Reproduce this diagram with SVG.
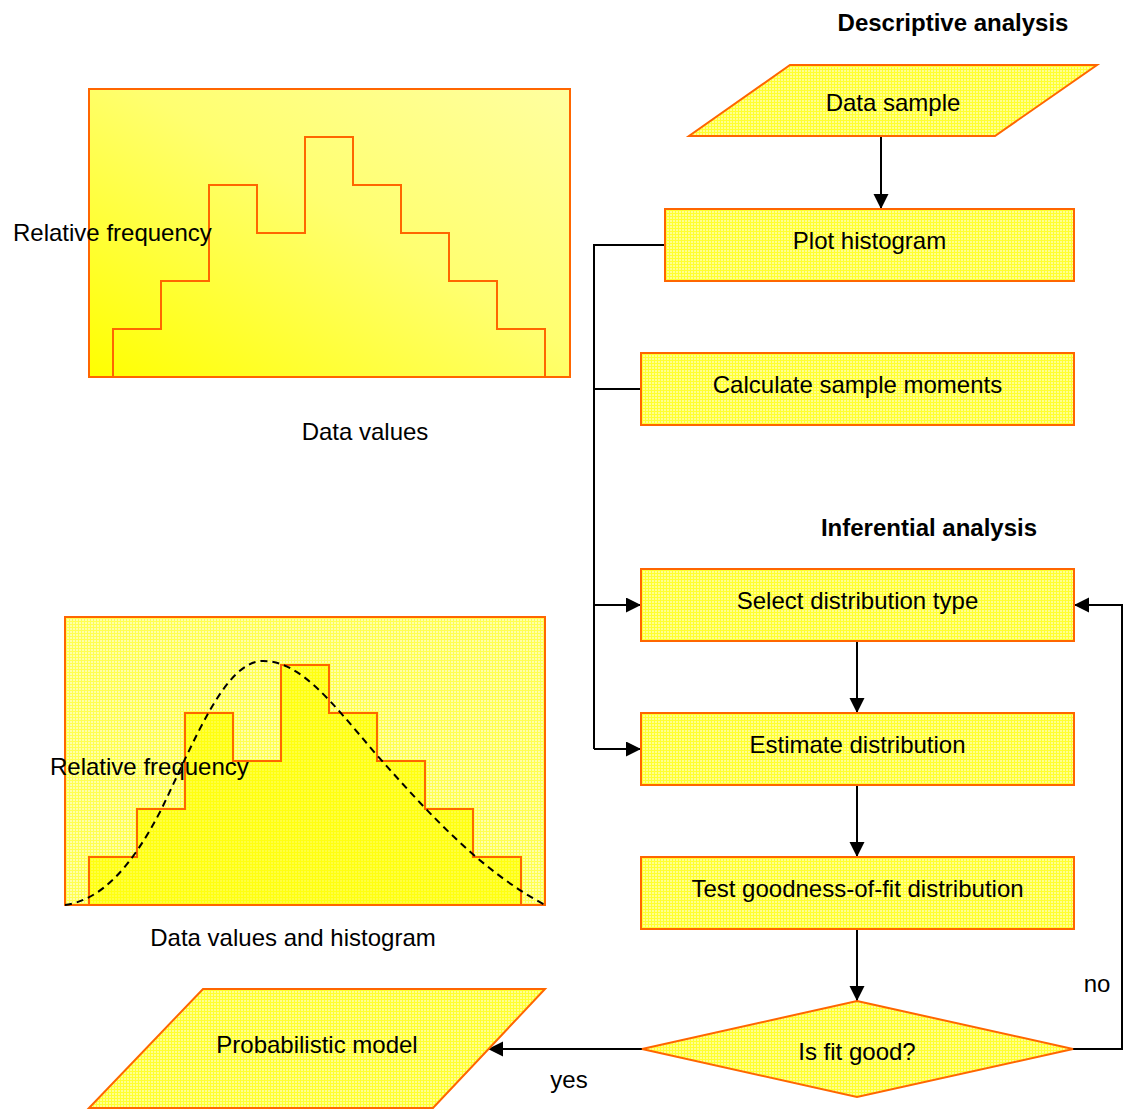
<svg xmlns="http://www.w3.org/2000/svg" width="1128" height="1109" viewBox="0 0 1128 1109">
<style>
.t{font-family:"Liberation Sans",Arial,sans-serif;font-size:24px;fill:#000}
.b{font-weight:bold}
.m{text-anchor:middle}
.node{fill:url(#grid);stroke:#FF6600;stroke-width:2}
.con{fill:none;stroke:#000;stroke-width:2}
.arr{marker-end:url(#ah)}
.hist{fill:none;stroke:#FF6600;stroke-width:2}
</style>
<defs>
<pattern id="grid" width="3" height="3" patternUnits="userSpaceOnUse">
<rect width="3" height="3" fill="#FFFF90"/>
<path d="M0 0.5H3M0.5 0V3" stroke="#FFFF30" stroke-width="1"/>
</pattern>
<pattern id="gridL" width="3" height="3" patternUnits="userSpaceOnUse">
<rect width="3" height="3" fill="#FFFFA8"/>
<path d="M0 0.5H3M0.5 0V3" stroke="#FFFF50" stroke-width="1"/>
</pattern>
<pattern id="gridS" width="3" height="3" patternUnits="userSpaceOnUse">
<rect width="3" height="3" fill="#FFFF40"/>
<path d="M0 0.5H3M0.5 0V3" stroke="#FFFF10" stroke-width="1"/>
</pattern>
<linearGradient id="grad" x1="0" y1="1" x2="1" y2="0">
<stop offset="0" stop-color="#FFFF00"/>
<stop offset="0.55" stop-color="#FFFF70"/>
<stop offset="1" stop-color="#FFFFA0"/>
</linearGradient>
<marker id="ah" markerWidth="16" markerHeight="16" refX="15" refY="7.5" orient="auto" markerUnits="userSpaceOnUse">
<path d="M0 0L15 7.5L0 15Z" fill="#000"/>
</marker>
</defs>

<g id="chart-top">
<rect x="89" y="89" width="481" height="288" fill="url(#grad)" stroke="#FF6600" stroke-width="2"/>
<polyline class="hist" points="89,377 113,377 113,329 161,329 161,281 209,281 209,185 257,185 257,233 305,233 305,137 353,137 353,185 401,185 401,233 449,233 449,281 497,281 497,329 545,329 545,377 570,377"/>
<text class="t" x="13" y="241">Relative frequency</text>
<text class="t m" x="365" y="440">Data values</text>
</g>

<g id="chart-bottom">
<rect x="65" y="617" width="480" height="288" fill="url(#gridL)" stroke="#FF6600" stroke-width="2"/>
<polygon points="89,905 89,857 137,857 137,809 185,809 185,713 233,713 233,761 281,761 281,665 329,665 329,713 377,713 377,761 425,761 425,809 473,809 473,857 521,857 521,905" fill="url(#gridS)" stroke="#FF6600" stroke-width="2"/>
<path d="M65,905 C100,900 130,870 161,810 C195,740 225,661 263,661 C300,661 330,700 375,753 C430,815 480,870 545,905" fill="none" stroke="#000" stroke-width="2" stroke-dasharray="7 5"/>
<text class="t" x="50" y="775">Relative frequency</text>
<text class="t m" x="293" y="946">Data values and histogram</text>
</g>

<text class="t b m" x="953" y="31">Descriptive analysis</text>
<text class="t b m" x="929" y="536">Inferential analysis</text>

<g id="connectors">
<line class="con arr" x1="881" y1="137" x2="881" y2="209"/>
<polyline class="con" points="665,245 594,245 594,749"/>
<line class="con" x1="641" y1="389" x2="594" y2="389"/>
<line class="con arr" x1="594" y1="605" x2="641" y2="605"/>
<line class="con arr" x1="594" y1="749" x2="641" y2="749"/>
<line class="con arr" x1="857" y1="641" x2="857" y2="713"/>
<line class="con arr" x1="857" y1="785" x2="857" y2="857"/>
<line class="con arr" x1="857" y1="929" x2="857" y2="1001"/>
<line class="con arr" x1="642" y1="1049" x2="488" y2="1049"/>
<polyline class="con arr" points="1073,1049 1122,1049 1122,605 1074,605"/>
<text class="t m" x="569" y="1088">yes</text>
<text class="t m" x="1097" y="992">no</text>
</g>

<g id="data-sample">
<polygon class="node" points="790,65 1097,65 995,136 689,136"/>
<text class="t m" x="893" y="111">Data sample</text>
</g>
<g id="plot-histogram">
<rect class="node" x="665" y="209" width="409" height="72"/>
<text class="t m" x="869.5" y="249">Plot histogram</text>
</g>
<g id="calc-moments">
<rect class="node" x="641" y="353" width="433" height="72"/>
<text class="t m" x="857.5" y="393">Calculate sample moments</text>
</g>
<g id="select-dist">
<rect class="node" x="641" y="569" width="433" height="72"/>
<text class="t m" x="857.5" y="609">Select distribution type</text>
</g>
<g id="estimate-dist">
<rect class="node" x="641" y="713" width="433" height="72"/>
<text class="t m" x="857.5" y="753">Estimate distribution</text>
</g>
<g id="test-fit">
<rect class="node" x="641" y="857" width="433" height="72"/>
<text class="t m" x="857.5" y="897">Test goodness-of-fit distribution</text>
</g>
<g id="is-fit-good">
<polygon class="node" points="857,1001 1073,1049 857,1097 642,1049"/>
<text class="t m" x="857" y="1060">Is fit good?</text>
</g>
<g id="prob-model">
<polygon class="node" points="203,989 545,989 433,1108 89,1108"/>
<text class="t m" x="317" y="1053">Probabilistic model</text>
</g>
</svg>
